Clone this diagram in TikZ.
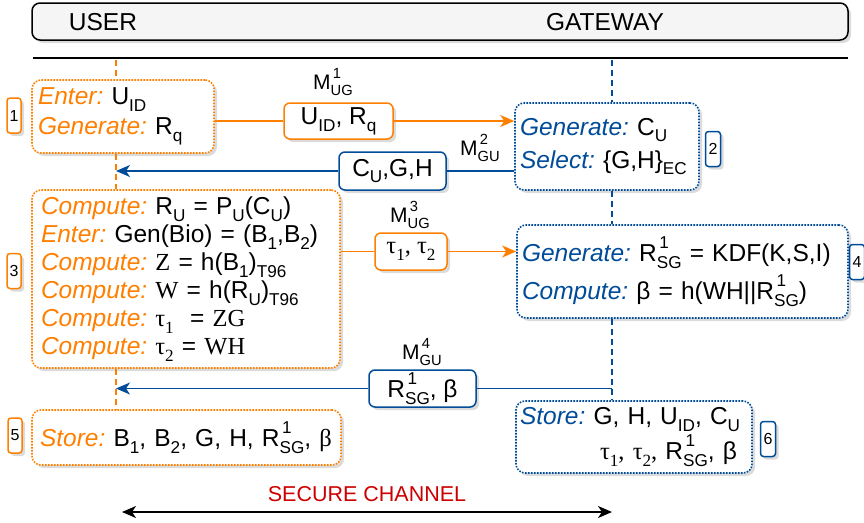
\documentclass[tikz,border=0pt]{standalone}
\usepackage{fontspec}
\setmainfont{Liberation Sans}
\newfontfamily\serif{Liberation Serif}
\usetikzlibrary{shadows,arrows.meta}
\frenchspacing
\definecolor{org}{HTML}{FF8000}
\definecolor{blu}{HTML}{004C99}
\definecolor{redc}{HTML}{CC0000}
\definecolor{hdr}{HTML}{F5F5F5}
\makeatletter
\newcommand{\lo}[1]{\raisebox{-0.28em}{\fontsize{\fpeval{0.7*\f@size}}{0}\selectfont #1}}
\newcommand{\hi}[1]{\raisebox{0.55em}{\fontsize{\fpeval{0.7*\f@size}}{0}\selectfont #1}}
\makeatother
\newcommand{\hilo}[2]{\makebox[0pt][l]{\hspace{0.1em}\hi{#1}}\lo{#2}}
\newcommand{\kw}[2]{\textcolor{#1}{\itshape #2}}
\tikzset{
  >={Stealth[length=14pt,width=12pt,inset=4pt]},
  shad/.style={drop shadow={shadow xshift=3pt,shadow yshift=-3pt,fill=black!28}},
  big/.style={font=\frenchspacing\fontsize{24.5}{#1}\selectfont},
  obox/.style={draw=org,line width=1.6pt,dash pattern=on 1.6pt off 1.4pt,rounded corners=9pt,fill=white,shad,align=left,inner ysep=0pt},
  bbox/.style={draw=blu,line width=1.6pt,dash pattern=on 1.6pt off 1.4pt,rounded corners=9pt,fill=white,shad,align=left,inner ysep=0pt},
  omsg/.style={draw=org,line width=1.5pt,rounded corners=6pt,fill=white,shad,inner sep=0pt,big=28},
  bmsg/.style={draw=blu,line width=1.5pt,rounded corners=6pt,fill=white,shad,inner sep=0pt,big=28},
  onum/.style={draw=org,line width=1.5pt,rounded corners=3pt,fill=white,shad,inner sep=0pt,minimum width=14pt,minimum height=35pt,font=\fontsize{16}{18}\selectfont},
  bnum/.style={draw=blu,line width=1.5pt,rounded corners=3pt,fill=white,shad,inner sep=0pt,minimum width=15pt,minimum height=35pt,font=\fontsize{16}{18}\selectfont},
  mlab/.style={font=\fontsize{21}{24}\selectfont,inner sep=0pt},
  ulife/.style={draw=org,line width=1.5pt,dash pattern=on 6pt off 4pt},
  glife/.style={draw=blu,line width=1.5pt,dash pattern=on 6pt off 4pt},
  oline/.style={draw=org,line width=1.5pt},
  bline/.style={draw=blu,line width=1.5pt},
}
\begin{document}
\begin{tikzpicture}[x=1pt,y=-1pt]
\useasboundingbox (0,0) rectangle (864,522);
% header
\node[draw=black,line width=1.5pt,fill=hdr,rounded corners=8pt,shad,minimum width=816pt,minimum height=37pt,inner sep=0pt] (hdr) at (440,21.5) {};
\node[big=28,inner sep=0pt] (user) at (103,22) {USER};
\node[big=28,inner sep=0pt] (gw) at (605,22) {GATEWAY};
\coordinate (hl) at (33,58);
\coordinate (hr) at (848,58);
\draw[line width=1.5pt] (hl) -- (hr);
% boxes
\node[obox,big=30,minimum width=182pt,minimum height=73pt,inner xsep=6pt,text width=170pt] (b1) at (123,116.5)
 {\kw{org}{Enter:} U\lo{ID}\\ \kw{org}{Generate:} R\lo{q}};
\node[bbox,big=33,minimum width=184pt,minimum height=87pt,inner xsep=5pt,text width=174pt] (b2) at (607,146.5)
 {\kw{blu}{Generate:} C\lo{U}\\ \kw{blu}{Select:} \{G,H\}\lo{EC}};
\node[obox,big=28,minimum width=308pt,minimum height=178pt,inner xsep=9pt,text width=290pt] (b3) at (186,279)
 {\kw{org}{Compute:} R\lo{U} = P\lo{U}(C\lo{U})\\
  \kw{org}{Enter:} Gen(Bio) = (B\lo{1},B\lo{2})\\
  \kw{org}{Compute:} {\serif Z} = h(B\lo{1})\lo{T96}\\
  \kw{org}{Compute:} {\serif W} = h(R\lo{U})\lo{T96}\\
  \kw{org}{Compute:} {\serif τ\lo{1}} \ = {\serif ZG}\\
  \kw{org}{Compute:} {\serif τ\lo{2}} = {\serif WH}};
\node[bbox,big=38,minimum width=331pt,minimum height=93pt,inner xsep=5pt,text width=321pt] (b4) at (682.5,271.5)
 {\kw{blu}{Generate:} R\hilo{1}{SG} = KDF(K,S,I)\\ \kw{blu}{Compute:} β = h(WH||R\hilo{1}{SG})};
\node[obox,big=28,minimum width=309pt,minimum height=55pt,inner xsep=8pt,text width=293pt] (b5) at (186.5,437.5)
 {\mbox{\kw{org}{Store:} B\lo{1}, B\lo{2}, G, H, R\hilo{1}{SG}, {\serif β}}};
\node[bbox,big=35,minimum width=236pt,minimum height=72pt,inner xsep=4pt,text width=228pt] (b6) at (634,437)
 {\kw{blu}{Store:} G, H, U\lo{ID}, C\lo{U}\\ \makebox[217pt][r]{{\serif τ\lo{1}, τ\lo{2},} R\hilo{1}{SG}, β}};
% number tags
\node[onum] (n1) at (14,115.5) {1};
\node[bnum] (n2) at (713,149) {2};
\node[onum] (n3) at (14,271) {3};
\node[bnum] (n4) at (857,262) {4};
\node[onum] (n5) at (15,435.5) {5};
\node[bnum] (n6) at (768,439) {6};
% messages
\node[omsg,minimum width=109pt,minimum height=36pt] (m1) at (338.5,121) {U\lo{ID}, R\lo{q}};
\node[bmsg,minimum width=107pt,minimum height=38pt] (m2) at (392.5,171) {C\lo{U},G,H};
\node[omsg,minimum width=72pt,minimum height=37pt] (m3) at (411,251.5) {{\serif τ\lo{1}, τ\lo{2}}};
\node[bmsg,minimum width=107pt,minimum height=37pt] (m4) at (422.5,388.5) {R\hilo{1}{SG}, β};
\node[mlab] (l1) at (333,82) {M\hilo{1}{UG}};
\node[mlab] (l2) at (480,148) {M\hilo{2}{GU}};
\node[mlab] (l3) at (410,215) {M\hilo{3}{UG}};
\node[mlab] (l4) at (422,352) {M\hilo{4}{GU}};
% lifelines
\coordinate (ut) at (116,60);
\coordinate (gt) at (612,60);
\draw[ulife] (ut) -- (ut|-b1.north);
\draw[ulife] (ut|-b1.south) -- (ut|-b3.north);
\draw[ulife] (ut|-b3.south) -- (ut|-b5.north);
\draw[glife] (gt) -- (gt|-b2.north);
\draw[glife] (gt|-b2.south) -- (gt|-b4.north);
\draw[glife] (gt|-b4.south) -- (gt|-b6.north);
% message connectors
\draw[oline] (b1.east|-m1) -- (m1.west);
\draw[oline,->] (m1.east) -- (b2.west|-m1);
\draw[bline] (b2.west|-m2) -- (m2.east);
\draw[bline,->] (m2.west) -- (ut|-m2);
\draw[oline] (b3.east|-m3) -- (m3.west);
\draw[oline,->] (m3.east) -- (b4.west|-m3);
\draw[bline] (gt|-m4) -- (m4.east);
\draw[bline,->] (m4.west) -- (ut|-m4);
% secure channel
\node[font=\fontsize{21.5}{24}\selectfont,text=redc,inner sep=0pt] (sc) at (367,494) {SECURE CHANNEL};
\coordinate (sc1) at (122,512);
\coordinate (sc2) at (612,512);
\draw[line width=1.5pt,<->] (sc1) -- (sc2);
\end{tikzpicture}
\end{document}
